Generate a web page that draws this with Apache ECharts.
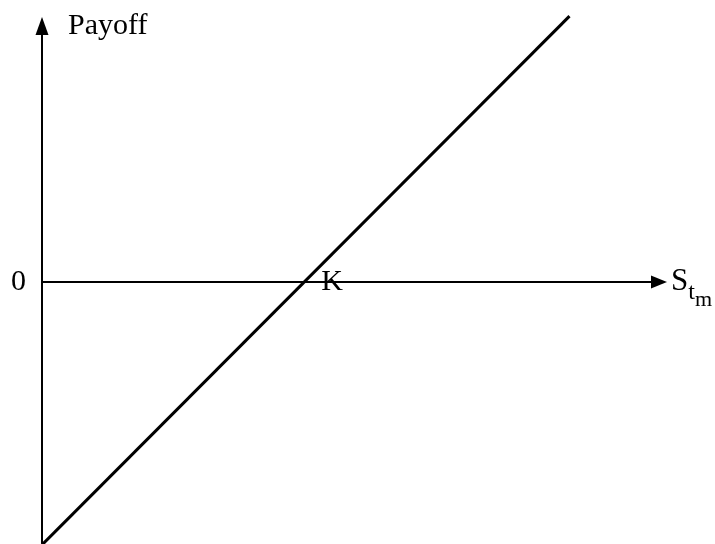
<!DOCTYPE html>
<html>
<head>
<meta charset="utf-8">
<title>Payoff</title>
<script src="https://cdn.jsdelivr.net/npm/echarts@6/dist/echarts.min.js"></script>
<style>
  html, body {
    margin: 0;
    padding: 0;
    background: #fff;
  }

  #chart {
    width: 715px;
    height: 544px;
  }
</style>
</head>
<body>
<div id="chart"></div>
<script>
// values (arbitrary units)
const spotPrices = [0, 85.5];
const payoffs = [-42.5, 43];
const strikePrice = 42.5;
const strikeLabel = 'K';
const zeroLabel = '0';

const serif = '"Liberation Serif", "Times New Roman", serif';

const chart = echarts.init(document.getElementById('chart'));

const linePoints = spotPrices.map((s, i) => [s, payoffs[i]]);

chart.setOption({
  backgroundColor: '#fff',
  animation: false,
  grid: {
    left: 42,
    right: 54,
    top: 26,
    bottom: 1,
  },
  xAxis: {
    type: 'value',
    min: 0,
    max: 100,
    name: '{s|S}{t|t}{m|m}',
    nameLocation: 'end',
    nameGap: 12,
    nameTextStyle: {
      align: 'left',
      verticalAlign: 'middle',
      rich: {
        s: { fontFamily: serif, fontSize: 31, color: '#000' },
        t: { fontFamily: serif, fontSize: 24, color: '#000', padding: [22, 0, 0, 0] },
        m: { fontFamily: serif, fontSize: 22, color: '#000', padding: [36, 0, 0, 0] },
      },
    },
    axisLine: {
      show: true,
      onZero: true,
      symbol: ['none', 'triangle'],
      symbolSize: [13, 16],
      lineStyle: { color: '#000', width: 2 },
    },
    axisTick: { show: false },
    axisLabel: { show: false },
    splitLine: { show: false },
  },
  yAxis: {
    type: 'value',
    min: -42.2,
    max: 41.4,
    name: 'Payoff',
    nameLocation: 'end',
    nameGap: 0,
    nameTextStyle: {
      fontFamily: serif,
      fontSize: 30,
      color: '#000',
      align: 'left',
      verticalAlign: 'middle',
      padding: [0, 0, 10, 26],
    },
    axisLine: {
      show: true,
      symbol: ['none', 'triangle'],
      symbolSize: [13, 18],
      lineStyle: { color: '#000', width: 2 },
    },
    axisTick: { show: false },
    axisLabel: {
      margin: 16,
      fontFamily: serif,
      fontSize: 30,
      color: '#000',
      formatter: (v) => (v === 0 ? zeroLabel : ''),
    },
    splitLine: { show: false },
  },
  series: [
    {
      type: 'line',
      data: linePoints,
      symbol: 'none',
      clip: false,
      lineStyle: { color: '#000', width: 3 },
      z: 3,
      markPoint: {
        symbol: 'circle',
        symbolSize: 0,
        silent: true,
        itemStyle: { color: '#000' },
        label: {
          show: true,
          position: 'right',
          distance: 17,
          formatter: strikeLabel,
          fontFamily: serif,
          fontSize: 30,
          color: '#000',
          opacity: 1,
        },
        data: [{ coord: [strikePrice, 0] }],
      },
    },
  ],
});
</script>
</body>
</html>
